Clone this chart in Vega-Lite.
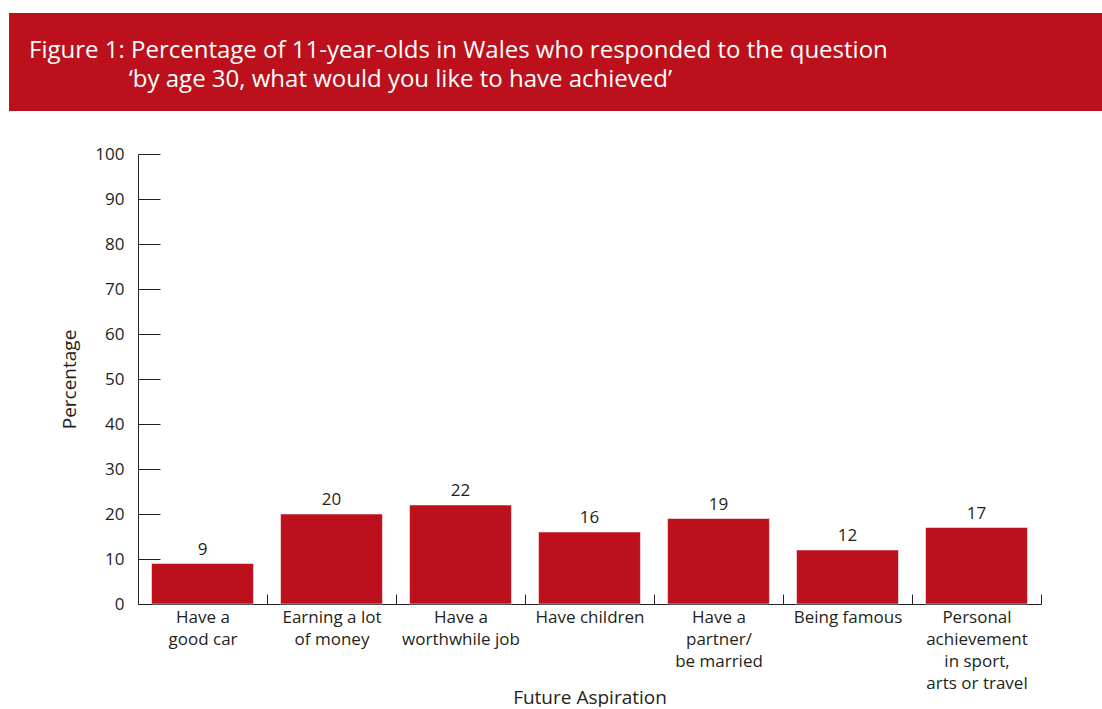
{
  "$schema": "https://vega.github.io/schema/vega-lite/v6.json",
  "padding": {"left": 9, "top": 13, "right": 0, "bottom": 0},
  "autosize": {"type": "pad"},
  "spacing": 34,
  "config": {"view": {"stroke": null}, "font": "Open Sans"},
  "vconcat": [
    {
      "width": 1093,
      "height": 98,
      "view": {"fill": "#BC111C", "stroke": null},
      "data": {"values": [{}]},
      "mark": {"type": "text"},
      "encoding": {"text": {"value": ""}},
      "title": {
        "text": [
          "Figure 1: Percentage of 11-year-olds in Wales who responded to the question",
          "\u200b\u00a0\u00a0\u00a0\u00a0\u00a0\u00a0\u00a0\u00a0\u00a0\u00a0\u00a0\u00a0\u00a0\u00a0\u00a0\u00a0‘by age 30, what would you like to have achieved’"
        ],
        "anchor": "start",
        "frame": "group",
        "dx": 20,
        "offset": -79,
        "baseline": "top",
        "color": "white",
        "fontSize": 24,
        "fontWeight": "normal",
        "font": "Open Sans",
        "lineHeight": 29
      }
    },
    {
      "width": 1093,
      "height": 450,
      "data": {
        "values": [
          {"aspiration": "Have a good car", "percentage": 9},
          {"aspiration": "Earning a lot of money", "percentage": 20},
          {"aspiration": "Have a worthwhile job", "percentage": 22},
          {"aspiration": "Have children", "percentage": 16},
          {"aspiration": "Have a partner/be married", "percentage": 19},
          {"aspiration": "Being famous", "percentage": 12},
          {"aspiration": "Personal achievement in sport, arts or travel", "percentage": 17}
        ]
      },
      "encoding": {
        "x": {
          "field": "aspiration",
          "type": "nominal",
          "sort": null,
          "scale": {"paddingInner": 0, "paddingOuter": 0, "range": [129, 1032]},
          "axis": {
            "title": "Future Aspiration",
            "titleFontSize": 19,
            "titleFont": "Open Sans",
            "titleFontWeight": "normal",
            "titleColor": "#231F20",
            "titlePadding": -3,
            "labelAngle": 0,
            "labelFontSize": 17,
            "labelFont": "Open Sans",
            "labelColor": "#231F20",
            "labelLineHeight": 22,
            "labelPadding": 15,
            "labelOverlap": false,
            "labelLimit": 300,
            "tickBand": "extent",
            "tickSize": -10,
            "tickColor": "#231F20",
            "domainColor": "#231F20",
            "labelExpr": "{'Have a good car': ['Have a','good car'], 'Earning a lot of money': ['Earning a lot','of money'], 'Have a worthwhile job': ['Have a','worthwhile job'], 'Have children': 'Have children', 'Have a partner/be married': ['Have a','partner/','be married'], 'Being famous': 'Being famous', 'Personal achievement in sport, arts or travel': ['Personal','achievement','in sport,','arts or travel']}[datum.label]"
          }
        },
        "y": {
          "field": "percentage",
          "type": "quantitative",
          "scale": {"domain": [0, 100]},
          "axis": {
            "offset": -129,
            "values": [0, 10, 20, 30, 40, 50, 60, 70, 80, 90, 100],
            "title": "Percentage",
            "titleFontSize": 19,
            "titleFont": "Open Sans",
            "titleFontWeight": "normal",
            "titleColor": "#231F20",
            "titlePadding": 15,
            "labelFontSize": 17,
            "labelFont": "Open Sans",
            "labelColor": "#231F20",
            "labelPadding": 36,
            "tickSize": -22,
            "tickColor": "#231F20",
            "domainColor": "#231F20",
            "grid": false
          }
        }
      },
      "layer": [
        {
          "mark": {"type": "bar", "color": "#BC111C", "width": {"band": 0.79}, "stroke": "white", "strokeOpacity": 0.5, "strokeWidth": 1}
        },
        {
          "mark": {"type": "text", "baseline": "bottom", "dy": -5, "fontSize": 17, "color": "#231F20", "font": "Open Sans"},
          "encoding": {"text": {"field": "percentage", "type": "quantitative"}}
        }
      ]
    }
  ]
}
